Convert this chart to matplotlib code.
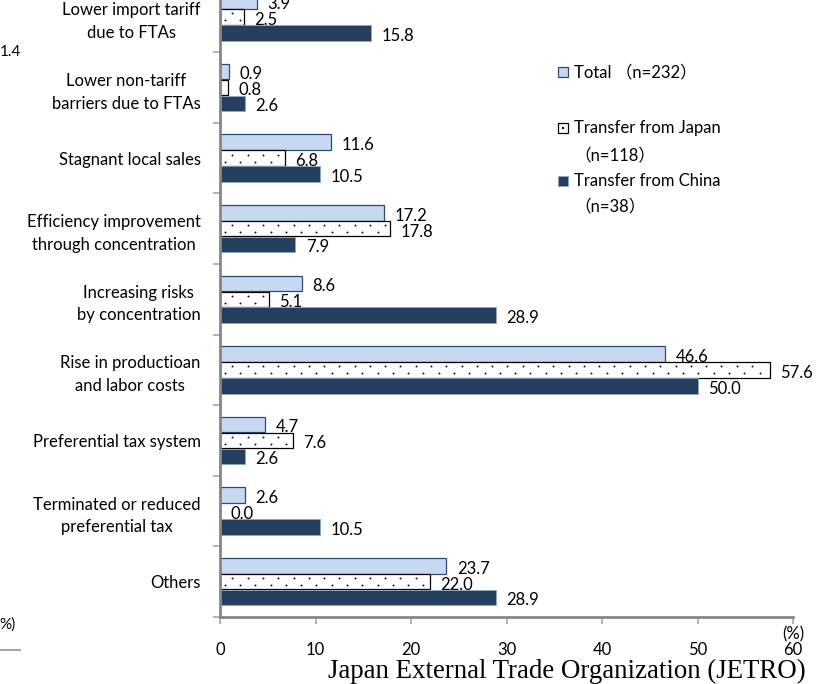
import matplotlib
matplotlib.use("Agg")
import numpy as np
import matplotlib.pyplot as plt
from matplotlib.patches import Rectangle
from matplotlib.lines import Line2D

# Reasons for relocating production bases (%, multiple answers)
categories = [
    "Lower import tariff\ndue to FTAs",
    "Lower non-tariff\nbarriers due to FTAs",
    "Stagnant local sales",
    "Efficiency improvement\nthrough concentration",
    "Increasing risks\nby concentration",
    "Rise in productioan\nand labor costs",
    "Preferential tax system",
    "Terminated or reduced\npreferential tax",
    "Others",
]
total = [3.9, 0.9, 11.6, 17.2, 8.6, 46.6, 4.7, 2.6, 23.7]
from_japan = [2.5, 0.8, 6.8, 17.8, 5.1, 57.6, 7.6, 0.0, 22.0]
from_china = [15.8, 2.6, 10.5, 7.9, 28.9, 50.0, 2.6, 10.5, 28.9]
series_labels = ["Total \uff08n=232\uff09",
                 "Transfer from Japan\n\uff08n=118\uff09",
                 "Transfer from China\n\uff08n=38\uff09"]
x_ticks = [0, 10, 20, 30, 40, 50, 60]

FONT = ["Lato", "Noto Sans CJK JP", "DejaVu Sans"]
plt.rcParams["font.family"] = FONT

styles = [
    dict(facecolor="#C6D9F1", edgecolor="#2C4A6E", linewidth=0.9),
    dict(facecolor="white", edgecolor="black", linewidth=0.9),
    dict(facecolor="#243F60", edgecolor="#8FA6C2", linewidth=0.6),
]

W, H = 834, 684
fig = plt.figure(figsize=(W / 100, H / 100), dpi=100)
ax_left, ax_right, ax_bottom, ax_top = 220, 793, 617, -18.4
ax = fig.add_axes([ax_left / W, (H - ax_bottom) / H,
                   (ax_right - ax_left) / W, (ax_bottom - ax_top) / H])

n = len(categories)
bar_h = 0.22
offsets = [-0.225, 0.0, 0.225]
FS = 12
for k, (vals, off, st) in enumerate(zip([total, from_japan, from_china], offsets, styles)):
    ys = [i + off for i in range(n)]
    ax.barh(ys, vals, height=bar_h, zorder=2, **st)
    if k == 1:
        # sparse staggered dot pattern inside the "from Japan" bars
        step = 1.6
        for y, v in zip(ys, vals):
            for start, dy in ((0.5, 0.05), (1.3, -0.05)):
                xs = np.arange(start, v - 0.3, step)
                ax.scatter(xs, np.full(len(xs), y + dy), s=1.8, c="black",
                           marker="o", linewidths=0, zorder=2.5)
    for y, v in zip(ys, vals):
        ax.text(v + 1.1, y + 0.04, f"{v:.1f}", va="center", ha="left",
                fontsize=FS, color="black", zorder=3)

ax.set_xlim(0, 60)
ax.set_ylim(n - 0.5, -0.5)
ax.set_xticks(x_ticks)
ax.set_yticks(range(n))
ax.set_yticklabels(categories, fontsize=FS, linespacing=1.5)
for lbl in ax.get_yticklabels():
    lbl.set_multialignment("center")
ax.set_yticks([i - 0.5 for i in range(n + 1)], minor=True)
ax.tick_params(axis="y", which="major", length=0, pad=14)
ax.tick_params(axis="y", which="minor", length=5, width=1.2, color="#A6A6A6",
               direction="out")
ax.tick_params(axis="x", length=5, width=1.2, color="#A6A6A6", direction="out",
               labelsize=FS, pad=13)

for side in ["top", "right"]:
    ax.spines[side].set_visible(False)
for side in ["left", "bottom"]:
    ax.spines[side].set_color("#868686")
    ax.spines[side].set_linewidth(2)

ax.text(60, -17 / 635, "(%)", transform=ax.get_xaxis_transform(), ha="center",
        va="center", fontsize=FS)

# legend drawn as patches + text in figure pixels
leg_x = 558
leg_rows = [(72, None), (128, 155), (181, 206)]
for k, ((y1, y2), st, lab) in enumerate(zip(leg_rows, styles, series_labels)):
    s = 10
    fig.patches.append(Rectangle((leg_x / W, (H - y1 - s / 2) / H), s / W, s / H,
                                 transform=fig.transFigure, **st))
    if k == 1:
        fig.patches.append(Rectangle(((leg_x + 4.3) / W, (H - y1 - 0.7) / H),
                                     1.4 / W, 1.4 / H, transform=fig.transFigure,
                                     facecolor="black", edgecolor="none"))
    lines = lab.split("\n")
    fig.text((leg_x + 16) / W, (H - y1) / H, lines[0], fontsize=FS,
             va="center", ha="left")
    if y2 is not None:
        fig.text((leg_x + 16) / W, (H - y2) / H, lines[1], fontsize=FS,
                 va="center", ha="left")

fig.text(806 / W, (H - 671) / H, "Japan External Trade Organization (JETRO)",
         family="Liberation Serif", fontsize=19.4, ha="right", va="center")

# fragments of the neighbouring panel at the left edge
fig.text(21 / W, (H - 52) / H, "1.4", fontsize=11, ha="right", va="center")
fig.text(16 / W, (H - 625) / H, "%)", fontsize=11, ha="right", va="center")
fig.lines.append(Line2D([0, 20 / W], [(H - 650) / H] * 2, transform=fig.transFigure,
                        color="#A6A6A6", linewidth=1.5))

fig.savefig("out.png", dpi=100)
